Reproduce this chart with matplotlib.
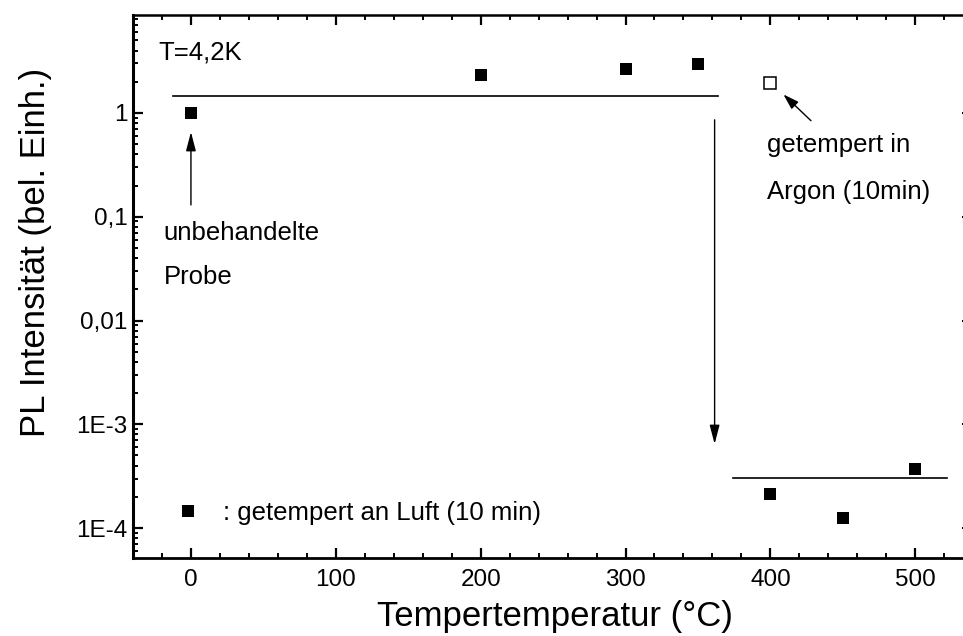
import matplotlib
matplotlib.use("Agg")
import matplotlib.pyplot as plt
from matplotlib.ticker import FixedLocator, FixedFormatter, MultipleLocator, LogLocator, NullLocator, NullFormatter
from matplotlib.lines import Line2D

plt.rcParams['font.family'] = ['Liberation Sans', 'DejaVu Sans']

# ---- data ----
temps_air = [0, 200, 300, 350, 400, 450, 500]
pl_air = [1.0, 2.32, 2.66, 2.97, 2.13e-4, 1.24e-4, 3.7e-4]
temps_argon = [400]
pl_argon = [1.96]
upper_level_x = [-12.6, 364]
upper_level_y = [1.47, 1.47]
lower_level_x = [374, 522]
lower_level_y = [3.05e-4, 3.05e-4]
ytick_values = [1e-4, 1e-3, 1e-2, 1e-1, 1]
ytick_labels = ["1E-4", "1E-3", "0,01", "0,1", "1"]
xlim = (-40, 534)
ylim = (5.14e-5, 8.8)

fig = plt.figure(figsize=(9.63, 6.36), dpi=100)
ax = fig.add_axes([133/963, 78/636, 831.5/963, 543/636])
ax.set_yscale('log')
ax.set_xlim(*xlim)
ax.set_ylim(*ylim)

# data
ax.plot(temps_air, pl_air, ls='none', marker='s', ms=9.2, mfc='black', mec='black', mew=0)
ax.plot(temps_argon, pl_argon, ls='none', marker='s', ms=8.8, mfc='white', mec='black', mew=1.1)
ax.plot(upper_level_x, upper_level_y, color='black', lw=1.2)
ax.plot(lower_level_x, lower_level_y, color='black', lw=1.2)

# arrows
def arrow(tail, tip, hl, hw):
    ax.annotate('', xy=tip, xytext=tail,
                arrowprops=dict(arrowstyle=f'-|>,head_length={hl},head_width={hw}',
                                mutation_scale=1, color='black', lw=1.0,
                                shrinkA=0, shrinkB=0))

arrow((361.5, 0.86), (361.5, 6.45e-4), 11.5, 3.0)
arrow((0, 0.13), (0, 0.656), 11.5, 3.0)
arrow((428, 0.843), (409, 1.51), 9.5, 3.0)

# annotations
fs_ann = 18.5
ax.text(-22.8, 3.79, "T=4,2K", fontsize=fs_ann, va='center', ha='left')
ax.text(-19, 0.0697, "unbehandelte", fontsize=fs_ann, va='center', ha='left')
ax.text(-19, 0.0264, "Probe", fontsize=fs_ann, va='center', ha='left')
ax.text(397.5, 0.49, "getempert in", fontsize=fs_ann, va='center', ha='left')
ax.text(397.5, 0.174, "Argon (10min)", fontsize=fs_ann, va='center', ha='left')

# legend
handle = Line2D([], [], ls='none', marker='s', ms=9.2, mfc='black', mec='black', mew=0)
ax.legend([handle], [": getempert an Luft (10 min)"], loc='center left',
          bbox_to_anchor=(0.0509, 0.0829), borderaxespad=0, borderpad=0,
          handlelength=1.0, handletextpad=0.85, frameon=False, fontsize=fs_ann)

# ticks
ax.xaxis.set_major_locator(MultipleLocator(100))
ax.xaxis.set_minor_locator(MultipleLocator(20))
ax.yaxis.set_major_locator(FixedLocator(ytick_values))
ax.yaxis.set_major_formatter(FixedFormatter(ytick_labels))
ax.yaxis.set_minor_locator(LogLocator(base=10, subs=range(2, 10)))
ax.yaxis.set_minor_formatter(NullFormatter())
ax.tick_params(which='major', direction='in', length=7, width=1.6, labelsize=17.5,
               top=True, right=False, bottom=True, left=True)
ax.tick_params(which='minor', direction='in', length=3.5, width=1.4,
               top=True, right=False, bottom=True, left=True)
ax.tick_params(axis='x', which='major', pad=8)
ax.tick_params(axis='y', which='major', pad=4)

# right-hand decade ticks only
ax2 = ax.twinx()
ax2.set_yscale('log')
ax2.set_ylim(*ylim)
ax2.yaxis.set_major_locator(FixedLocator(ytick_values))
ax2.yaxis.set_minor_locator(NullLocator())
ax2.tick_params(direction='in', length=2.5, width=1.5, labelright=False)
for s in ax2.spines.values():
    s.set_visible(False)

for name, lw in [('left', 2.2), ('bottom', 2.0), ('top', 1.8), ('right', 1.8)]:
    ax.spines[name].set_linewidth(lw)

ax.set_xlabel("Tempertemperatur (°C)", fontsize=25)
ax.xaxis.set_label_coords(0.507, -0.0765)
ax.set_ylabel("PL Intensität (bel. Einh.)", fontsize=25)
ax.yaxis.set_label_coords(-0.097, 0.5626)

fig.savefig("out.png", dpi=100)
